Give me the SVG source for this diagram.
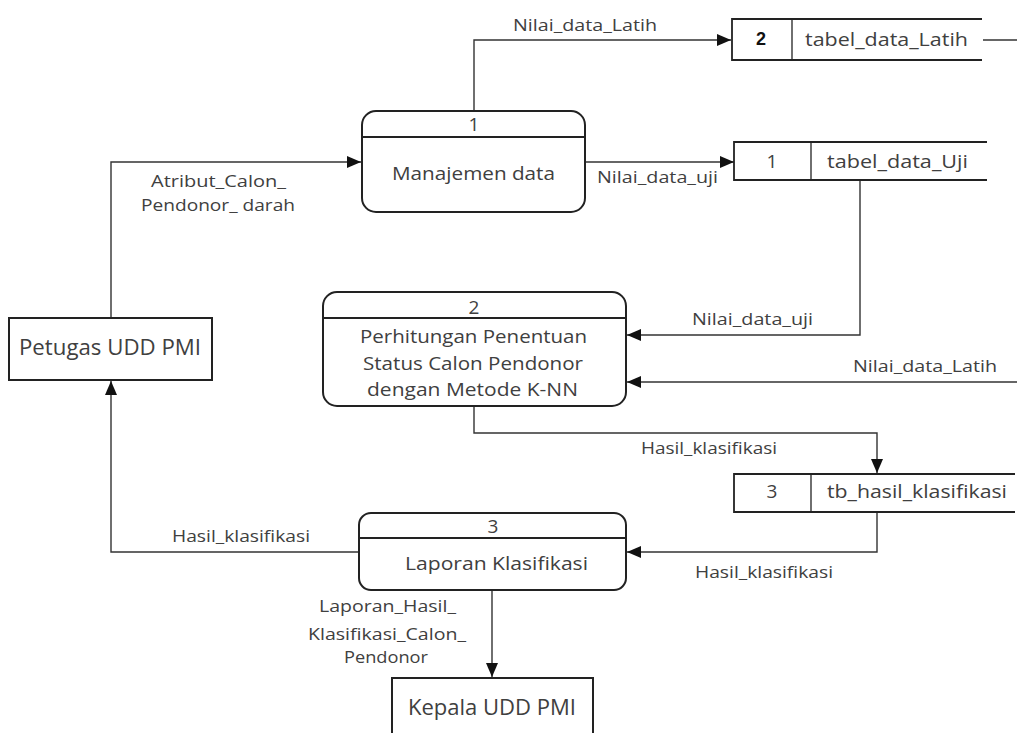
<svg xmlns="http://www.w3.org/2000/svg" width="1017" height="733" viewBox="0 0 1017 733">
<defs>
<marker id="ah" viewBox="0 0 14 12" refX="14" refY="6" markerWidth="14" markerHeight="12" markerUnits="userSpaceOnUse" orient="auto">
<path d="M0,0 L14,6 L0,12 z" fill="#111"/>
</marker>
<style>
.box{fill:#fff;stroke:#222;stroke-width:2}
.ln{fill:none;stroke:#333;stroke-width:1.4}
.st{fill:none;stroke:#222;stroke-width:1.8}
.t{font-family:"Open Sans","Liberation Sans",sans-serif;fill:#404040;text-anchor:middle}
.nt{font-size:19px}
.et{font-size:21px}
.lb{font-size:17px}
</style>
</defs>
<rect width="1017" height="733" fill="#fff"/>
<g id="connectors">
<polyline class="ln" points="474,111 474,40 731,40" marker-end="url(#ah)"/>
<line class="ln" x1="983" y1="40" x2="1017" y2="40"/>
<line class="ln" x1="585" y1="162" x2="734" y2="162" marker-end="url(#ah)"/>
<polyline class="ln" points="860,180 860,335 627,335" marker-end="url(#ah)"/>
<line class="ln" x1="1017" y1="382" x2="627" y2="382" marker-end="url(#ah)"/>
<polyline class="ln" points="474,406 474,433 877,433 877,473" marker-end="url(#ah)"/>
<polyline class="ln" points="877,512 877,552 627,552" marker-end="url(#ah)"/>
<polyline class="ln" points="359,552 111,552 111,381" marker-end="url(#ah)"/>
<polyline class="ln" points="111,318 111,162 361,162" marker-end="url(#ah)"/>
<line class="ln" x1="492" y1="590" x2="492" y2="677" marker-end="url(#ah)"/>
<text class="t lb" x="585" y="31" textLength="144" lengthAdjust="spacingAndGlyphs">Nilai_data_Latih</text>
<text class="t lb" x="657.5" y="183" textLength="121" lengthAdjust="spacingAndGlyphs">Nilai_data_uji</text>
<text class="t lb" x="218.5" y="187" textLength="135" lengthAdjust="spacingAndGlyphs">Atribut_Calon_</text>
<text class="t lb" x="218" y="211" textLength="154" lengthAdjust="spacingAndGlyphs">Pendonor_ darah</text>
<text class="t lb" x="752.5" y="325" textLength="121" lengthAdjust="spacingAndGlyphs">Nilai_data_uji</text>
<text class="t lb" x="925" y="372" textLength="144" lengthAdjust="spacingAndGlyphs">Nilai_data_Latih</text>
<text class="t lb" x="709" y="454" textLength="136" lengthAdjust="spacingAndGlyphs">Hasil_klasifikasi</text>
<text class="t lb" x="764" y="578" textLength="138" lengthAdjust="spacingAndGlyphs">Hasil_klasifikasi</text>
<text class="t lb" x="241" y="542" textLength="138" lengthAdjust="spacingAndGlyphs">Hasil_klasifikasi</text>
<text class="t lb" x="387.5" y="612" textLength="137" lengthAdjust="spacingAndGlyphs">Laporan_Hasil_</text>
<text class="t lb" x="387" y="640" textLength="158" lengthAdjust="spacingAndGlyphs">Klasifikasi_Calon_</text>
<text class="t lb" x="386" y="663" textLength="84" lengthAdjust="spacingAndGlyphs">Pendonor</text>
</g>
<g id="p1">
<rect class="box" x="362" y="111" width="223" height="101" rx="14"/>
<line class="box" x1="362" y1="137" x2="585" y2="137"/>
<text class="t nt" x="474" y="131">1</text>
<text class="t nt" x="473.5" y="180" textLength="163" lengthAdjust="spacingAndGlyphs">Manajemen data</text>
</g>
<g id="p2">
<rect class="box" x="323" y="292" width="303" height="114" rx="14"/>
<line class="box" x1="323" y1="318" x2="626" y2="318"/>
<text class="t nt" x="474" y="314">2</text>
<text class="t nt" x="473.5" y="343" textLength="227" lengthAdjust="spacingAndGlyphs">Perhitungan Penentuan</text>
<text class="t nt" x="473" y="370" textLength="220" lengthAdjust="spacingAndGlyphs">Status Calon Pendonor</text>
<text class="t nt" x="472.5" y="396" textLength="211" lengthAdjust="spacingAndGlyphs">dengan Metode K-NN</text>
</g>
<g id="p3">
<rect class="box" x="359" y="513" width="267" height="77" rx="12"/>
<line class="box" x1="359" y1="538" x2="626" y2="538"/>
<text class="t nt" x="493" y="533">3</text>
<text class="t nt" x="496.5" y="570" textLength="183" lengthAdjust="spacingAndGlyphs">Laporan Klasifikasi</text>
</g>
<g id="petugas">
<rect class="box" x="9" y="318" width="203" height="62"/>
<text class="t et" x="110" y="355" textLength="182" lengthAdjust="spacingAndGlyphs">Petugas UDD PMI</text>
</g>
<g id="kepala">
<rect class="box" x="392" y="678" width="201" height="70"/>
<text class="t et" x="492" y="715" textLength="168" lengthAdjust="spacingAndGlyphs">Kepala UDD PMI</text>
</g>
<g id="ds2">
<polyline class="st" points="982,19 732,19 732,60 982,60"/>
<line class="st" x1="792" y1="19" x2="792" y2="60" style="stroke-width:1.3"/>
<text x="761" y="45" style="font-family:'Liberation Sans',Arial,sans-serif;font-weight:bold;font-size:18px;fill:#111;text-anchor:middle">2</text>
<text class="t nt" x="886.5" y="46" textLength="163" lengthAdjust="spacingAndGlyphs">tabel_data_Latih</text>
</g>
<g id="ds1">
<polyline class="st" points="987,142 734,142 734,180 987,180"/>
<line class="st" x1="811" y1="142" x2="811" y2="180" style="stroke-width:1.3"/>
<text class="t nt" x="772" y="168">1</text>
<text class="t nt" x="897.5" y="168" textLength="141" lengthAdjust="spacingAndGlyphs">tabel_data_Uji</text>
</g>
<g id="ds3">
<polyline class="st" points="1015,474 734,474 734,512 1015,512"/>
<line class="st" x1="811" y1="474" x2="811" y2="512" style="stroke-width:1.3"/>
<text class="t nt" x="772" y="498">3</text>
<text class="t nt" x="917" y="498" textLength="180" lengthAdjust="spacingAndGlyphs">tb_hasil_klasifikasi</text>
</g>
</svg>
